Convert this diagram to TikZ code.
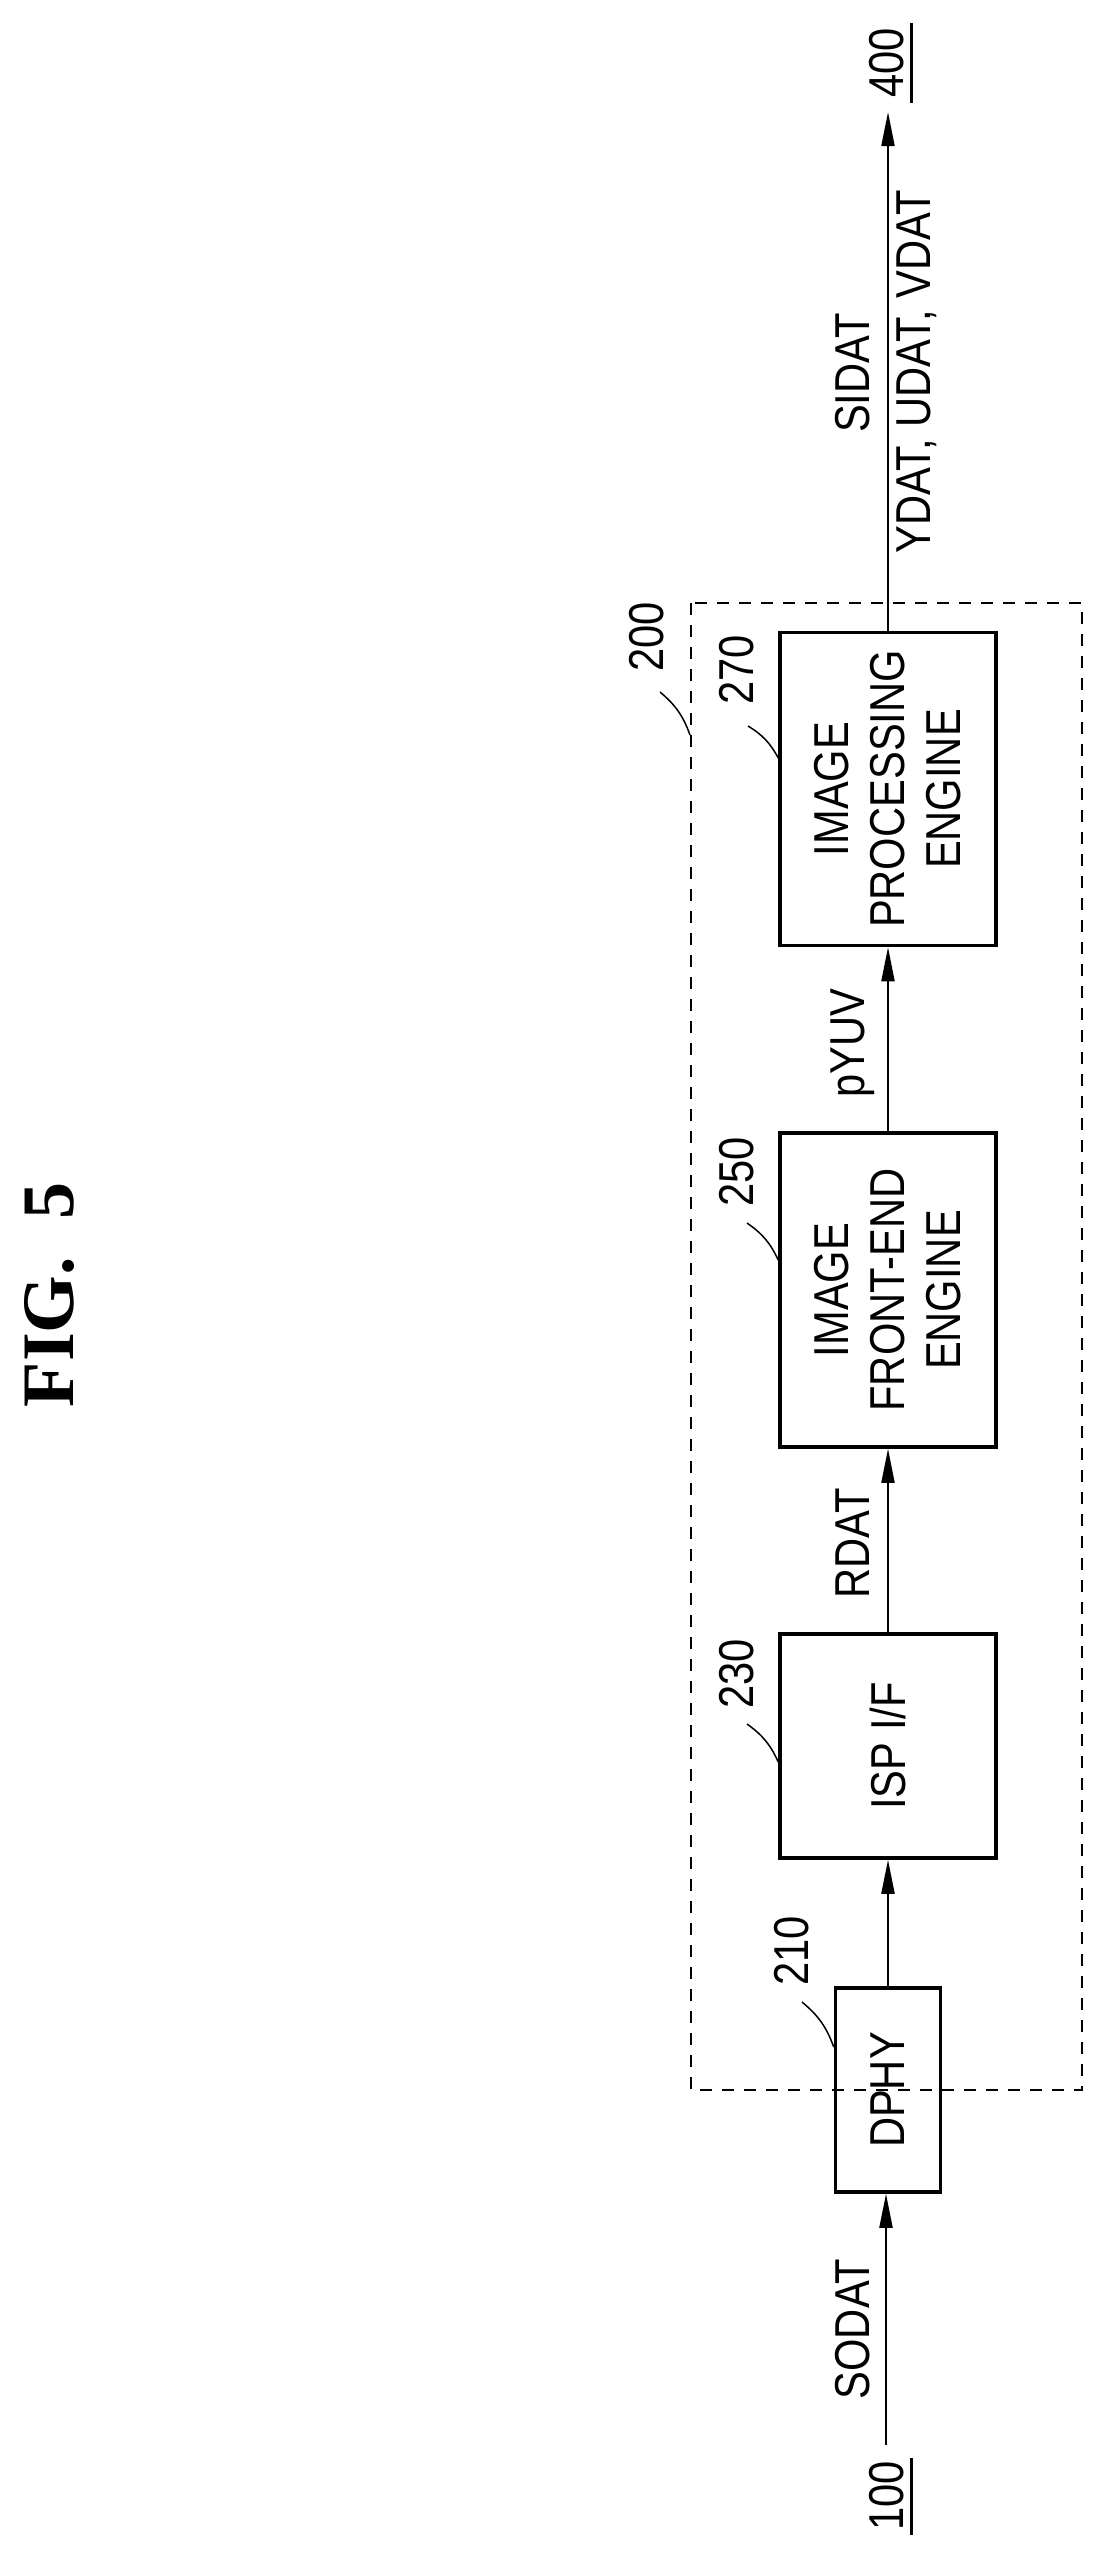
\documentclass[tikz,border=0pt]{standalone}
\usepackage{fontspec}
\usetikzlibrary{arrows.meta,positioning}
\newfontfamily\figfont[FakeStretch=0.85]{Liberation Sans}
\newfontfamily\titlefont{Liberation Serif}
\begin{document}
\begin{tikzpicture}[x=1pt,y=-1pt]
  \tikzstyle{myblock}=[draw, line width=3.5pt, rotate=90, align=center,
    font=\figfont\fontsize{49}{56}\selectfont, inner sep=0pt];
  \tikzstyle{mytext}=[rotate=90, font=\figfont\fontsize{49}{56}\selectfont];
  \tikzstyle{myconn}=[line width=2pt, -{Triangle[length=34pt,width=13pt]}];
  \tikzstyle{mylead}=[line width=1.5pt];
  \useasboundingbox (0,0) rectangle (1104,2560);
  %
  % title
  \node[rotate=90, font=\titlefont\bfseries\fontsize{74}{80}\selectfont] (fig)
    at (50,1295) {FIG.\ \ 5};
  %
  % frame of 200
  \draw[line width=1.5pt, dash pattern=on 12pt off 10pt] (691,603) rectangle (1082,2090);
  %
  % blocks
  \node[myblock, minimum width=204pt, minimum height=105pt] (dphy) at (888,2090) {DPHY};
  \node[myblock, minimum width=224pt, minimum height=216pt] (isp) at (888,1746) {ISP I/F};
  \node[myblock, minimum width=314pt, minimum height=216pt] (fe) at (888,1290) {
    IMAGE\\FRONT-END\\ENGINE};
  \node[myblock, minimum width=313pt, minimum height=216pt] (ipe) at (888,789) {
    IMAGE\\PROCESSING\\ENGINE};
  %
  % ends
  \coordinate (src) at (886,2445);
  \coordinate (dst) at (886,112);
  \node[mytext] (n100) at (887,2496) {100};
  \node[mytext] (n400) at (887,63) {400};
  \draw[line width=3pt] (911,2458) -- (911,2535);
  \draw[line width=3pt] (911,23) -- (911,103);
  %
  % connections
  \draw[myconn] (src) -- (src |- dphy.west);
  \draw[myconn] (dphy.east) -- (dphy.east |- isp.west);
  \draw[myconn] (isp.east) -- (isp.east |- fe.west);
  \draw[myconn] (fe.east) -- (fe.east |- ipe.west);
  \draw[myconn] (ipe.east) -- (ipe.east |- dst);
  %
  % signal names
  \node[mytext] (sodat) at (853,2329) {SODAT};
  \node[mytext] (rdat) at (853,1543) {RDAT};
  \node[mytext] (pyuv) at (853,1043) {pYUV};
  \node[mytext] (sidat) at (853,373) {SIDAT};
  \node[mytext] (yuv) at (917,372) {YDAT, UDAT, VDAT};
  %
  % reference numbers
  \node[mytext] (n200) at (647,637) {200};
  \node[mytext] (n270) at (737,670) {270};
  \node[mytext] (n250) at (737,1172) {250};
  \node[mytext] (n230) at (737,1674) {230};
  \node[mytext] (n210) at (792,1951) {210};
  \draw[mylead] (660,692) to[bend left=15] (690,735);
  \draw[mylead] (748,726) to[bend left=15] (ipe.north |- 0,758);
  \draw[mylead] (747,1223) to[bend left=15] (fe.north |- 0,1260);
  \draw[mylead] (747,1724) to[bend left=15] (isp.north |- 0,1762);
  \draw[mylead] (802,2002) to[bend left=15] (dphy.north |- 0,2047);
\end{tikzpicture}
\end{document}
